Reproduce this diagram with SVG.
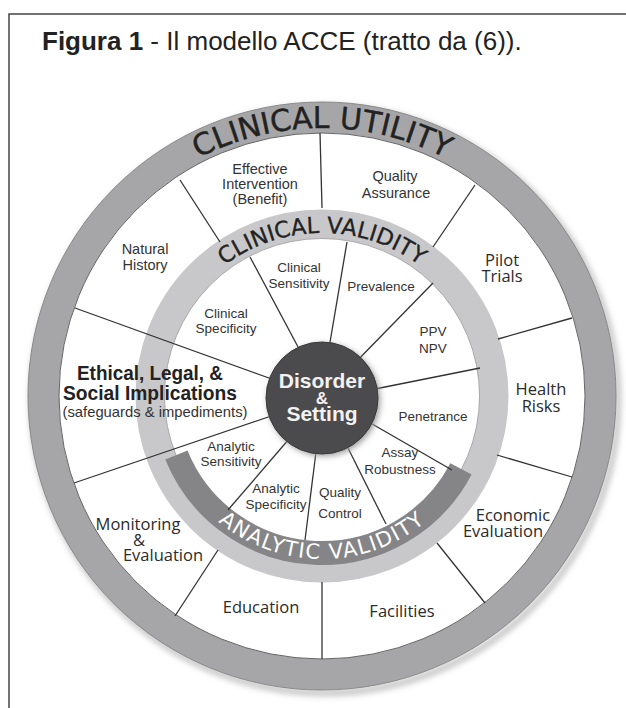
<svg xmlns="http://www.w3.org/2000/svg" width="626" height="708" viewBox="0 0 626 708">
<defs>
<style>
.lbl{font-family:"Liberation Sans",Arial,sans-serif;fill:#333;text-anchor:middle;font-size:13.5px}
.olbl{font-family:"Liberation Sans",Arial,sans-serif;fill:#333;text-anchor:middle;font-size:14.5px}
.hlbl{font-family:"Open Sans","DejaVu Sans",sans-serif;fill:#2b2b2b;text-anchor:middle;font-size:16.5px}
.arc{font-family:"DejaVu Sans",sans-serif;text-anchor:middle}
.div{stroke:#333;stroke-width:1.3;fill:none}
</style>
<filter id="sh" x="-20%" y="-20%" width="140%" height="140%"><feGaussianBlur stdDeviation="3"/></filter>
<path id="pUtil" d="M 54 396 A 268 268 0 0 1 590 396"/>
<path id="pClin" d="M 159 396 A 163 163 0 0 1 485 396"/>
<path id="pAnal" d="M 159 396 A 163 163 0 0 0 485 396"/>
</defs>
<rect width="626" height="708" fill="#fff"/>
<path d="M9 708 V14 H626" stroke="#444" stroke-width="1.5" fill="none"/>
<text x="42" y="50" font-family="Liberation Sans, Arial, sans-serif" font-size="26" fill="#222"><tspan font-weight="bold">Figura 1</tspan> - Il modello ACCE (tratto da (6)).</text>

<g id="wheel">
<circle cx="325" cy="400" r="293" fill="none" stroke="#b5b5b5" stroke-width="5" filter="url(#sh)"/>
<circle cx="322" cy="396" r="278.5" fill="none" stroke="#a6a6a8" stroke-width="31"/>
<circle cx="322" cy="396" r="263" fill="none" stroke="#666" stroke-width="1"/>
<circle cx="322" cy="396" r="294" fill="none" stroke="#8a8a8a" stroke-width="1"/>
<circle cx="322" cy="396" r="172" fill="none" stroke="#c8c8ca" stroke-width="29"/>
<circle cx="322" cy="396" r="157.5" fill="none" stroke="#9a9a9a" stroke-width="0.8"/>
<path d="M 176.4 455 A 157 157 0 0 0 461 468.9" fill="none" stroke="#858587" stroke-width="24"/>
<text class="arc" font-size="30" fill="#222" stroke="#222" stroke-width="0.4"><textPath href="#pUtil" startOffset="50%">CLINICAL UTILITY</textPath></text>
<text class="arc" font-size="22.5" fill="#222" stroke="#222" stroke-width="0.3"><textPath href="#pClin" startOffset="50%">CLINICAL VALIDITY</textPath></text>
<text class="arc" font-size="21" fill="#fff" letter-spacing="1.5"><textPath href="#pAnal" startOffset="50%">ANALYTIC VALIDITY</textPath></text>
</g>

<g id="connectors">
<line class="div" x1="180" y1="180" x2="220" y2="242"/>
<line class="div" x1="320" y1="133" x2="322" y2="208"/>
<line class="div" x1="475" y1="185" x2="433" y2="247"/>
<line class="div" x1="572" y1="318" x2="498" y2="339"/>
<line class="div" x1="572" y1="477" x2="497" y2="455"/>
<line class="div" x1="485" y1="603" x2="437" y2="543"/>
<line class="div" x1="322" y1="582" x2="322" y2="659"/>
<line class="div" x1="218" y1="550" x2="175" y2="616"/>
<line class="div" x1="75" y1="308" x2="280" y2="382"/>
<line class="div" x1="74" y1="483" x2="280" y2="413"/>
<line class="div" x1="250" y1="257" x2="305" y2="360"/>
<line class="div" x1="347" y1="242" x2="327" y2="360"/>
<line class="div" x1="433" y1="283" x2="350" y2="368"/>
<line class="div" x1="480" y1="368" x2="360" y2="392"/>
<line class="div" x1="452" y1="470" x2="360" y2="417"/>
<line class="div" x1="386" y1="524" x2="340" y2="432"/>
<line class="div" x1="305" y1="540" x2="318" y2="436"/>
<line class="div" x1="228" y1="510" x2="295" y2="432"/>
</g>

<g id="disorder">
<circle cx="324" cy="400" r="56" fill="#999" filter="url(#sh)"/>
<circle cx="322" cy="398" r="56" fill="#4b4b4d" stroke="#3a3a3a" stroke-width="1"/>
<text x="322" y="388" font-family="Liberation Sans, Arial, sans-serif" font-size="21" font-weight="bold" fill="#f2f2f2" text-anchor="middle">Disorder</text>
<text x="322" y="404" font-family="Liberation Sans, Arial, sans-serif" font-size="17" font-weight="bold" fill="#f2f2f2" text-anchor="middle">&amp;</text>
<text x="322" y="421" font-family="Liberation Sans, Arial, sans-serif" font-size="21" font-weight="bold" fill="#f2f2f2" text-anchor="middle">Setting</text>
</g>

<g id="effective-intervention"><text class="olbl" x="260" y="174">Effective</text><text class="olbl" x="260" y="189">Intervention</text><text class="olbl" x="260" y="204">(Benefit)</text></g>
<g id="quality-assurance"><text class="olbl" x="395" y="181">Quality</text><text class="olbl" x="396" y="198">Assurance</text></g>
<g id="natural-history"><text class="olbl" x="145" y="254">Natural</text><text class="olbl" x="145" y="270">History</text></g>
<g id="pilot-trials"><text class="hlbl" x="502" y="266">Pilot</text><text class="hlbl" x="502" y="282">Trials</text></g>
<g id="health-risks"><text class="hlbl" x="541" y="395">Health</text><text class="hlbl" x="541" y="412">Risks</text></g>
<g id="economic-evaluation"><text class="hlbl" x="513" y="521">Economic</text><text class="hlbl" x="503" y="537">Evaluation</text></g>
<g id="facilities"><text class="hlbl" x="402" y="617">Facilities</text></g>
<g id="education"><text class="hlbl" x="261" y="613">Education</text></g>
<g id="monitoring-evaluation"><text class="hlbl" x="138" y="530">Monitoring</text><text class="hlbl" x="139" y="546">&amp;</text><text class="hlbl" x="163" y="561">Evaluation</text></g>
<g id="elsi">
<text x="150" y="380" font-family="Liberation Sans, Arial, sans-serif" font-size="20" font-weight="bold" fill="#222" text-anchor="middle" textLength="146" lengthAdjust="spacingAndGlyphs">Ethical, Legal, &amp;</text>
<text x="150" y="400" font-family="Liberation Sans, Arial, sans-serif" font-size="20" font-weight="bold" fill="#222" text-anchor="middle" textLength="174" lengthAdjust="spacingAndGlyphs">Social Implications</text>
<text x="155" y="417" font-family="Liberation Sans, Arial, sans-serif" font-size="15" fill="#333" text-anchor="middle" textLength="185" lengthAdjust="spacingAndGlyphs">(safeguards &amp; impediments)</text>
</g>

<g id="clinical-specificity"><text class="lbl" x="226" y="318">Clinical</text><text class="lbl" x="226" y="333">Specificity</text></g>
<g id="clinical-sensitivity"><text class="lbl" x="299" y="272">Clinical</text><text class="lbl" x="299" y="288">Sensitivity</text></g>
<g id="prevalence"><text class="lbl" x="381" y="291">Prevalence</text></g>
<g id="ppv-npv"><text class="lbl" x="433" y="336">PPV</text><text class="lbl" x="433" y="353">NPV</text></g>
<g id="penetrance"><text class="lbl" x="433" y="421">Penetrance</text></g>
<g id="assay-robustness"><text class="lbl" x="400" y="457">Assay</text><text class="lbl" x="400" y="474">Robustness</text></g>
<g id="quality-control"><text class="lbl" x="340" y="497">Quality</text><text class="lbl" x="340" y="518">Control</text></g>
<g id="analytic-specificity"><text class="lbl" x="276" y="493">Analytic</text><text class="lbl" x="276" y="509">Specificity</text></g>
<g id="analytic-sensitivity"><text class="lbl" x="231" y="451">Analytic</text><text class="lbl" x="231" y="466">Sensitivity</text></g>
</svg>
